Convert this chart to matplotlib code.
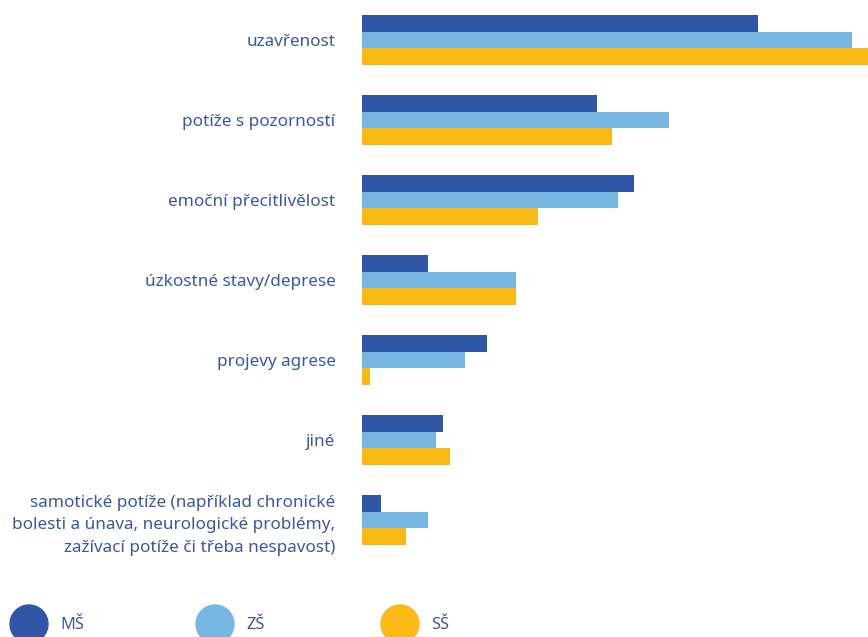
import numpy as np
import matplotlib.pyplot as plt
from matplotlib.patches import Circle

# categories (top to bottom) and shares per school level
categories = [
    "uzavřenost",
    "potíže s pozorností",
    "emoční přecitlivělost",
    "úzkostné stavy/deprese",
    "projevy agrese",
    "jiné",
    "samotické potíže (například chronické\nbolesti a únava, neurologické problémy,\nzažívací potíže či třeba nespavost)",
]
ms = [39.6, 23.5, 27.2, 6.6, 12.5, 8.1, 1.9]
zs = [49.0, 30.7, 25.6, 15.4, 10.3, 7.4, 6.6]
ss = [50.6, 25.0, 17.6, 15.4, 0.8, 8.8, 4.4]
series_names = ["MŠ", "ZŠ", "SŠ"]

colors = ["#3057a7", "#78b6e2", "#fbb915"]
text_color = "#3a56a5"

plt.rcParams['font.family'] = ['Noto Sans', 'DejaVu Sans']

W, H = 868, 637
fig = plt.figure(figsize=(W / 100, H / 100), dpi=100)
ax = fig.add_axes([362 / W, 1 - 560 / H, 1 - 362 / W, 560 / H])

y = np.arange(len(categories))
bh = 0.208
for i, vals in enumerate([ms, zs, ss]):
    ax.barh(y + (i - 1) * bh, vals, height=bh, color=colors[i], linewidth=0)

ax.set_xlim(0, 50.6)
ax.set_ylim(6.5, -0.5)
ax.set_yticks(y)
ax.set_yticklabels(categories, fontsize=12.3, color=text_color, ha="right",
                   linespacing=1.55)
ax.tick_params(axis="y", length=0, pad=19)
ax.set_xticks([])
for s in ax.spines.values():
    s.set_visible(False)

# legend row at the bottom, drawn in pixel units
lax = fig.add_axes([0, 0, 1, 77 / H])
lax.set_xlim(0, W)
lax.set_ylim(0, 77)
lax.axis("off")
legend_x = [29, 215, 400]
for name, c, cx in zip(series_names, colors, legend_x):
    lax.add_patch(Circle((cx, 13), 19, color=c, clip_on=False))
    lax.text(cx + 31, 12, name, fontsize=11.8, color=text_color, va="center")

fig.savefig("out.png", dpi=100)
